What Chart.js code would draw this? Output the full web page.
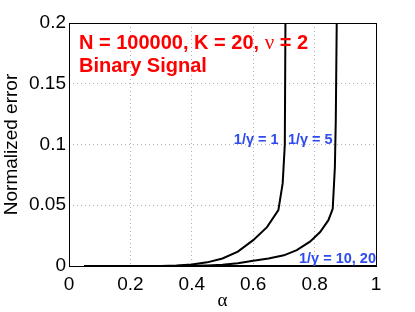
<!DOCTYPE html>
<html>
<head>
<meta charset="utf-8">
<script src="https://cdn.jsdelivr.net/npm/chart.js@4.4.0/dist/chart.umd.min.js"></script>
<style>
  html, body { margin: 0; padding: 0; background: #fff; }
  #wrap { width: 415px; height: 312px; }
</style>
</head>
<body>
<div id="wrap"><canvas id="chart"></canvas></div>
<script>
// values
const alphaG1 = [0.05, 0.1, 0.15, 0.2, 0.25, 0.3, 0.35, 0.4, 0.45, 0.5, 0.55, 0.6, 0.645, 0.682, 0.696, 0.703, 0.706];
const errG1   = [0, 0, 0, 0, 0, 0.0001, 0.0004, 0.0012, 0.003, 0.0062, 0.0118, 0.0213, 0.032, 0.046, 0.068, 0.1, 0.25];

const alphaG5 = [0.05, 0.1, 0.2, 0.3, 0.35, 0.4, 0.45, 0.5, 0.55, 0.6, 0.65, 0.7, 0.742, 0.785, 0.818, 0.845, 0.859, 0.866, 0.869, 0.874];
const errG5   = [0, 0, 0, 0, 0, 0.0002, 0.0005, 0.001, 0.0022, 0.0044, 0.0062, 0.0088, 0.013, 0.02, 0.028, 0.0377, 0.047, 0.081, 0.12, 0.25];

const alphaG10 = [0.05, 0.2, 0.4, 0.6, 0.8, 1.0];
const errG10   = [0, 0, 0, 0, 0, 0];
const alphaG20 = [0.05, 0.2, 0.4, 0.6, 0.8, 1.0];
const errG20   = [0, 0, 0, 0, 0, 0];

const xTicks = [0, 0.2, 0.4, 0.6, 0.8, 1];
const yTicks = [0, 0.05, 0.1, 0.15, 0.2];

const FONT = "'Liberation Sans', Arial, Helvetica, sans-serif";
const SERIF = "'Liberation Serif', 'Times New Roman', serif";
const BLUE = "rgb(45, 75, 240)";

const toPoints = (xs, ys) => xs.map((x, i) => ({ x, y: ys[i] }));

function curve(label, xs, ys) {
    return {
        label,
        data: toPoints(xs, ys),
        borderColor: "#000",
        borderWidth: 2,
        pointRadius: 0,
        tension: 0,
        fill: false,
    };
}

// black box round the plot area, matlab style
const frame = {
    id: "frame",
    afterDatasetsDraw(chart) {
        const { ctx, chartArea: a } = chart;
        ctx.save();
        ctx.strokeStyle = "#000";
        ctx.lineWidth = 1;
        ctx.strokeRect(a.left + 0.5, a.top + 0.5, a.right - a.left, a.bottom - a.top);
        ctx.restore();
    },
};

// text labels placed in data coordinates
const notes = {
    id: "notes",
    afterDraw(chart) {
        const { ctx } = chart;
        const xs = chart.scales.x, ys = chart.scales.y;
        const px = v => xs.getPixelForValue(v);
        const py = v => ys.getPixelForValue(v);
        ctx.save();
        ctx.textBaseline = "alphabetic";
        ctx.textAlign = "left";

        ctx.fillStyle = "#ff0000";
        const bold = "bold 20px " + FONT;
        let x = px(0.0326);
        const y1 = py(0.1784);
        ctx.font = bold;
        const part1 = "N = 100000, K = 20, ";
        ctx.fillText(part1, x, y1);
        x += ctx.measureText(part1).width;
        ctx.font = "21px " + SERIF;
        ctx.fillText("ν", x, y1);
        x += ctx.measureText("ν").width;
        ctx.font = bold;
        ctx.fillText(" = 2", x, y1);
        ctx.fillText("Binary Signal", px(0.0326), py(0.1593));

        ctx.fillStyle = BLUE;
        ctx.font = "bold 14.5px " + FONT;
        ctx.fillText("1/γ = 1", px(0.537), py(0.1008));
        ctx.fillText("1/γ = 5", px(0.713), py(0.1008));
        ctx.textAlign = "right";
        ctx.fillText("1/γ = 10, 20", px(1.0), py(0.0025));
        ctx.restore();
    },
};

new Chart(document.getElementById("chart"), {
    type: "line",
    data: {
        datasets: [
            curve("1/γ = 1", alphaG1, errG1),
            curve("1/γ = 5", alphaG5, errG5),
            curve("1/γ = 10", alphaG10, errG10),
            curve("1/γ = 20", alphaG20, errG20),
        ],
    },
    options: {
        responsive: true,
        maintainAspectRatio: false,
        animation: false,
        layout: { padding: { top: 23, right: 39, left: 0, bottom: 0 } },
        plugins: {
            legend: { display: false },
            tooltip: { enabled: false },
        },
        scales: {
            x: {
                type: "linear",
                min: 0,
                max: 1,
                afterBuildTicks: s => { s.ticks = xTicks.map(v => ({ value: v })); },
                afterFit: s => { s.height = 46; },
                ticks: {
                    color: "#000",
                    font: { family: FONT, size: 19 },
                    padding: 7,
                    maxRotation: 0,
                    callback: v => String(v),
                },
                grid: { color: "#b0b0b0", lineWidth: 1, drawTicks: false },
                border: { display: false, dash: [1, 3] },
                title: {
                    display: true,
                    text: "α",
                    color: "#000",
                    font: { family: SERIF, size: 19 },
                    padding: { top: 0, bottom: 0 },
                },
            },
            y: {
                type: "linear",
                min: 0,
                max: 0.2,
                afterBuildTicks: s => { s.ticks = yTicks.map(v => ({ value: v })); },
                afterFit: s => { s.width = 69; },
                ticks: {
                    color: "#000",
                    font: { family: FONT, size: 19 },
                    padding: 3,
                    callback: v => String(v),
                },
                grid: { color: "#b0b0b0", lineWidth: 1, drawTicks: false },
                border: { display: false, dash: [1, 3] },
                title: {
                    display: true,
                    text: "Normalized error",
                    color: "#000",
                    font: { family: FONT, size: 19 },
                    padding: { top: 0, bottom: 0 },
                },
            },
        },
    },
    plugins: [frame, notes],
});
</script>
</body>
</html>
